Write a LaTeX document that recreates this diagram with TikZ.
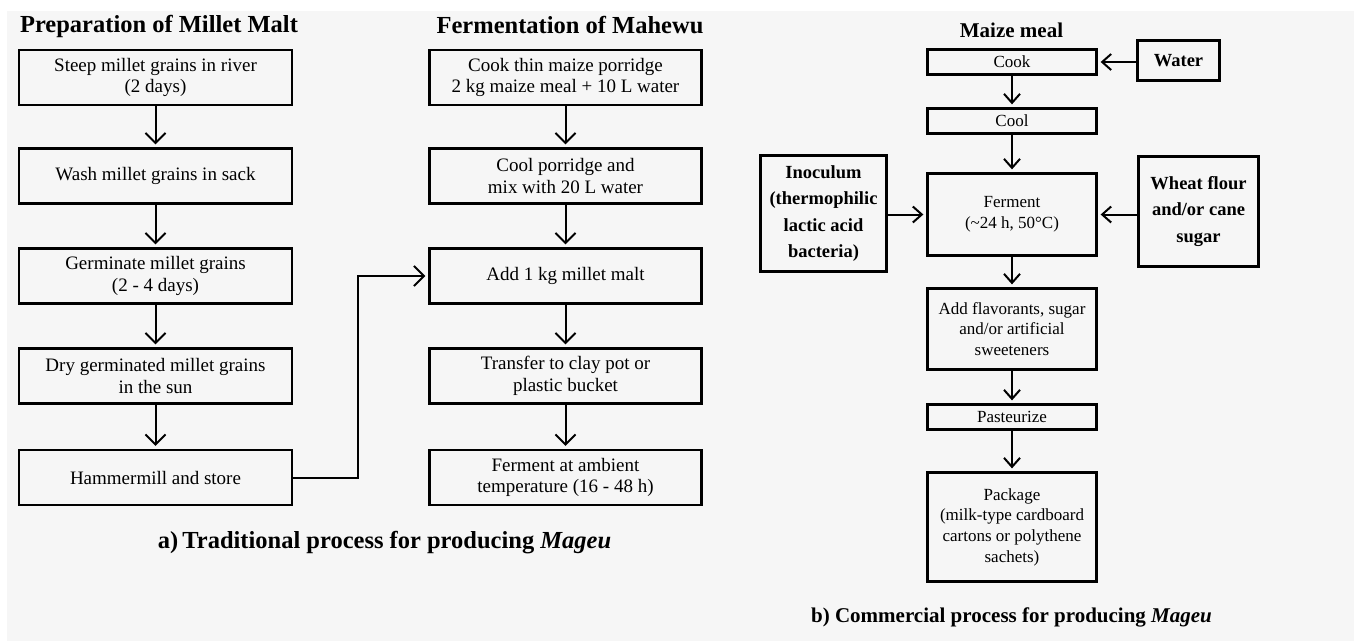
\documentclass[tikz,border=0pt]{standalone}
\usepackage{fontspec}
\setmainfont{LiberationSerif}[Extension=.ttf, UprightFont=*-Regular, BoldFont=*-Bold, ItalicFont=*-Italic, BoldItalicFont=*-BoldItalic]
\usetikzlibrary{arrows.meta}
\definecolor{bgray}{RGB}{246,246,246}
\tikzset{
  boxL/.style={draw, line width=2.3pt, minimum width=273pt, minimum height=55pt, inner sep=0pt, align=center, font=\fontsize{19}{21.5}\selectfont},
  boxR/.style={draw, line width=2.3pt, minimum width=169pt, inner sep=0pt, align=center, font=\fontsize{17}{20.7}\selectfont},
  boxB/.style={draw, line width=2.3pt, inner sep=0pt, align=center, font=\fontsize{18.5}{26.5}\selectfont\bfseries},
  head/.style={anchor=base, inner sep=0pt, font=\fontsize{24.5}{28}\selectfont\bfseries},
  arr/.style={line width=2pt, -{Straight Barb[length=10pt,width=20pt,line width=2pt]}, shorten >=3pt},
  arrs/.style={line width=2pt, -{Straight Barb[length=9pt,width=16pt,line width=2pt]}, shorten >=3pt}
}
\begin{document}
\begin{tikzpicture}[x=1pt,y=-1pt]
\useasboundingbox (0,0) rectangle (1357,641);
\fill[white] (0,0) rectangle (1357,641);
\fill[bgray] (7,11) rectangle (1354,641);

% headings
\node[head] (h1) at (159,32) {Preparation of Millet Malt};
\node[head] (h2) at (570,33) {Fermentation of Mahewu};
\node[head, font=\fontsize{21}{25}\selectfont\bfseries] (h3) at (1011.5,37) {Maize meal};

% left column
\node[boxL] (a1) at (155.5,77.5) {Steep millet grains in river\\(2 days)};
\node[boxL] (a2) at (155.5,176) {Wash millet grains in sack};
\node[boxL] (a3) at (155.5,276) {Germinate millet grains\\(2 - 4 days)};
\node[boxL] (a4) at (155.5,376) {Dry germinated millet grains\\in the sun};
\node[boxL] (a5) at (155.5,477.5) {Hammermill and store};

% middle column
\node[boxL, minimum width=272pt] (m1) at (565.5,77.5) {Cook thin maize porridge\\2 kg maize meal + 10 L water};
\node[boxL, minimum width=272pt] (m2) at (565.5,176) {Cool porridge and\\mix with 20 L water};
\node[boxL, minimum width=272pt] (m3) at (565.5,276) {Add 1 kg millet malt};
\node[boxL, minimum width=272pt] (m4) at (565.5,376) {Transfer to clay pot or\\plastic bucket};
\node[boxL, minimum width=272pt] (m5) at (565.5,477.5) {Ferment at ambient\\temperature (16 - 48 h)};

\foreach \p/\q in {a1/a2,a2/a3,a3/a4,a4/a5,m1/m2,m2/m3,m3/m4,m4/m5}
  \draw[arr] (\p) -- (\q);

\coordinate (j) at (358,0);
\draw[arr] (a5.east) -- (a5.east -| j) -- (j |- m3.west) -- (m3.west);

\node[head] (capa) at (384.5,548) {a)\,Traditional process for producing \textit{Mageu}};

% right section
\node[boxR, minimum height=25pt] (cook) at (1012,62) {Cook};
\node[boxR, minimum height=25pt] (cool) at (1012,121) {Cool};
\node[boxR, minimum height=82pt] (ferm) at (1012,214.5) {Ferment\\(\textasciitilde24 h, 50°C)};
\node[boxR, minimum height=81pt] (flav) at (1012,329) {Add flavorants, sugar\\and/or artificial\\sweeteners};
\node[boxR, minimum height=25pt] (past) at (1012,417) {Pasteurize};
\node[boxR, minimum height=109pt] (pack) at (1012,527) {Package\\(milk-type cardboard\\cartons or polythene\\sachets)};

\node[boxB, minimum width=82pt, minimum height=40pt] (water) at (1178.5,60.5) {Water};
\node[boxB, minimum width=126pt, minimum height=116pt] (ino) at (823.5,213.5) {Inoculum\\(thermophilic\\lactic acid\\bacteria)};
\node[boxB, minimum width=120pt, minimum height=110pt] (wheat) at (1198.5,211.5) {Wheat flour\\and/or cane\\sugar};

\foreach \p/\q in {cook/cool,cool/ferm,ferm/flav,flav/past,past/pack}
  \draw[arrs] (\p) -- (\q);
\draw[arrs] (water.west |- cook.east) -- (cook.east);
\draw[arrs] (ino.east |- ferm.west) -- (ferm.west);
\draw[arrs] (wheat.west |- ferm.east) -- (ferm.east);

\node[head, font=\fontsize{21}{25}\selectfont\bfseries] (capb) at (1011.5,622) {b) Commercial process for producing \textit{Mageu}};
\end{tikzpicture}
\end{document}
